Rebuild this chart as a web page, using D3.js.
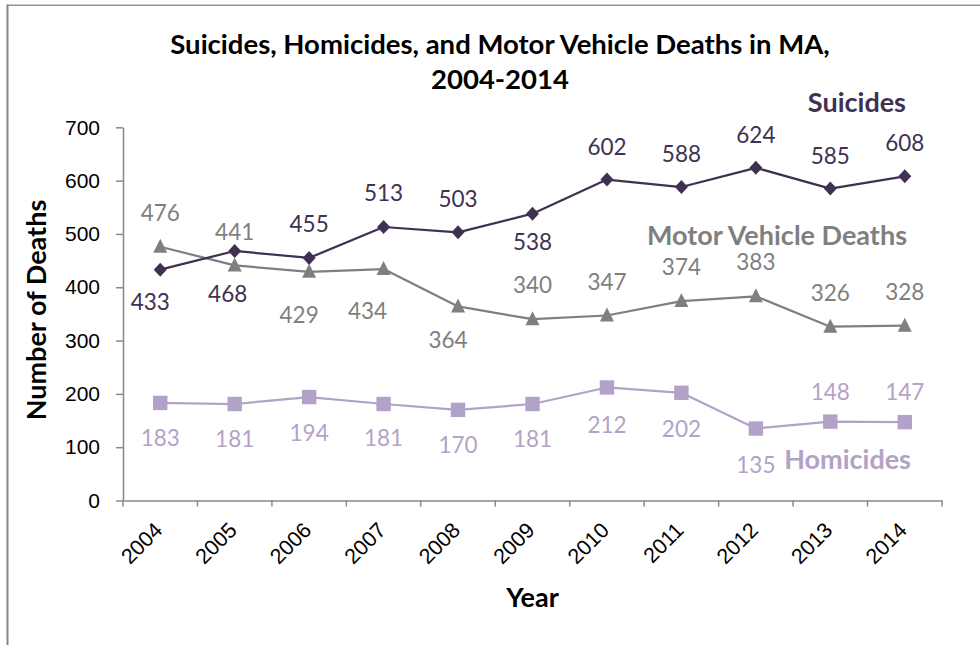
<!DOCTYPE html>
<html>
<head>
<meta charset="utf-8">
<script src="https://cdn.jsdelivr.net/npm/d3@7"></script>
<style>
  html, body { margin: 0; padding: 0; background: #fff; }
  svg { display: block; }
</style>
</head>
<body>
<svg id="chart" width="980" height="645"></svg>
<script>
// ---- data ----
const years = ["2004","2005","2006","2007","2008","2009","2010","2011","2012","2013","2014"];
const suicides = [433, 468, 455, 513, 503, 538, 602, 588, 624, 585, 608];
const motorVehicle = [476, 441, 429, 434, 364, 340, 347, 374, 383, 326, 328];
const homicides = [183, 181, 194, 181, 170, 181, 212, 202, 135, 148, 147];
const yTicks = [0, 100, 200, 300, 400, 500, 600, 700];
const seriesNames = ["Suicides", "Motor Vehicle Deaths", "Homicides"];

// label placement (pixel nudges relative to each point: [dx, dy to label centre])
const suicideLabelNudge = [[-10,32],[-7,43],[0,-34],[0,-34],[0,-33],[0,28],[0,-33],[0,-33],[0,-33],[0,-33],[0,-33]];
const motorLabelNudge = [[0,-34],[0,-33],[-10,43],[-16,42],[-10,33],[0,-34],[0,-34],[0,-34],[0,-34],[0,-34],[0,-34]];
const homicideLabelNudge = [[0,35],[0,35],[0,36],[0,34],[0,35],[0,35],[0,37],[0,36],[0,36],[0,-30],[0,-30]];

// ---- layout / style ----
const svg = d3.select("#chart");
const plot = { left: 123, right: 942, top: 127.3, bottom: 500.5 };
const colors = { suicides: "#403152", motor: "#7f7f7f", homicides: "#b3a2c7" };
const axisColor = "#888888";
const calibriLike = "Lato, 'Open Sans', sans-serif";
const arialLike = "'Liberation Sans', Arial, sans-serif";

const x = d3.scaleBand().domain(years).range([plot.left, plot.right]).padding(0);
const cx = d => x(d) + x.bandwidth() / 2;
const y = d3.scaleLinear().domain([0, 700]).range([plot.bottom, plot.top]);

// chart-area frame (top and left edges visible)
svg.append("line").attr("x1", 7).attr("x2", 980).attr("y1", 5.3).attr("y2", 5.3)
  .attr("stroke", "#959595").attr("stroke-width", 1.5);
svg.append("line").attr("x1", 7.5).attr("x2", 7.5).attr("y1", 4.5).attr("y2", 645)
  .attr("stroke", "#868686").attr("stroke-width", 2);

// title
const title = svg.append("text").attr("text-anchor", "middle")
  .attr("font-family", calibriLike).attr("font-weight", 700).attr("font-size", 27.5).attr("fill", "#000");
title.append("tspan").attr("x", 500).attr("y", 54).text("Suicides, Homicides, and Motor Vehicle Deaths in MA,");
title.append("tspan").attr("x", 500).attr("y", 89).text("2004-2014");

// y axis
const yAxis = svg.append("g").attr("transform", `translate(${plot.left},0)`)
  .call(d3.axisLeft(y).tickValues(yTicks).tickSize(7).tickSizeOuter(0).tickPadding(16).tickFormat(d3.format("d")));
yAxis.select(".domain").attr("stroke", axisColor).attr("stroke-width", 1.5);
yAxis.selectAll(".tick line").attr("stroke", axisColor).attr("stroke-width", 1.5);
yAxis.selectAll(".tick text").attr("font-family", arialLike).attr("font-size", 21).attr("fill", "#000");

// x axis
const xAxis = svg.append("g").attr("transform", `translate(0,${plot.bottom})`)
  .call(d3.axisBottom(x).tickSize(0).tickSizeOuter(0));
xAxis.select(".domain").attr("stroke", axisColor).attr("stroke-width", 1.5);
xAxis.selectAll(".tick text")
  .attr("font-family", arialLike).attr("font-size", 21.5).attr("fill", "#000")
  .attr("text-anchor", "end").attr("dy", 0).attr("y", 0).attr("x", 0)
  .attr("transform", "translate(3.5,31) rotate(-45)");
// category boundary ticks
const boundaries = years.map(d => x(d)).concat([x.range()[1]]);
xAxis.selectAll(".btick").data(boundaries).enter().append("line")
  .attr("x1", d => d).attr("x2", d => d).attr("y1", 0).attr("y2", 6)
  .attr("stroke", axisColor).attr("stroke-width", 1.5);

// axis titles
svg.append("text").attr("transform", "translate(46,310) rotate(-90)").attr("text-anchor", "middle")
  .attr("font-family", calibriLike).attr("font-weight", 700).attr("font-size", 27).attr("fill", "#000")
  .text("Number of Deaths");
svg.append("text").attr("x", 532.5).attr("y", 607).attr("text-anchor", "middle")
  .attr("font-family", calibriLike).attr("font-weight", 700).attr("font-size", 27).attr("fill", "#000")
  .text("Year");

// markers
const diamond = "M0,-7L6.5,0L0,7L-6.5,0Z";
const triangle = "M0,-8L7,6L-7,6Z";
const square = "M-7.2,-7.2H7.2V7.2H-7.2Z";

const series = [
  { name: seriesNames[1], values: motorVehicle, color: colors.motor, marker: triangle, nudge: motorLabelNudge },
  { name: seriesNames[2], values: homicides, color: colors.homicides, marker: square, nudge: homicideLabelNudge },
  { name: seriesNames[0], values: suicides, color: colors.suicides, marker: diamond, nudge: suicideLabelNudge }
];

const line = d3.line().x((d, i) => cx(years[i])).y(d => y(d));
const labelSize = 22.5;

series.forEach(s => {
  const g = svg.append("g");
  g.append("path").datum(s.values).attr("d", line)
    .attr("fill", "none").attr("stroke", s.color).attr("stroke-width", 2.25).attr("stroke-linejoin", "round");
  g.selectAll(".m").data(s.values).enter().append("path")
    .attr("d", s.marker).attr("fill", s.color)
    .attr("transform", (d, i) => `translate(${cx(years[i])},${y(d)})`);
  g.selectAll(".lbl").data(s.values).enter().append("text")
    .attr("x", (d, i) => cx(years[i]) + s.nudge[i][0])
    .attr("y", (d, i) => y(d) + s.nudge[i][1] + labelSize * 0.36)
    .attr("text-anchor", "middle")
    .attr("font-family", calibriLike).attr("font-size", labelSize).attr("fill", s.color)
    .text(d => d);
});

// inline series names
const nameStyle = (sel, color) => sel.attr("text-anchor", "end").attr("font-family", calibriLike)
  .attr("font-weight", 700).attr("font-size", 27).attr("fill", color);
svg.append("text").attr("x", 906).attr("y", 112).call(nameStyle, colors.suicides).text(seriesNames[0]);
svg.append("text").attr("x", 907).attr("y", 245).call(nameStyle, colors.motor).text(seriesNames[1]);
svg.append("text").attr("x", 911).attr("y", 469).call(nameStyle, colors.homicides).text(seriesNames[2]);
</script>
</body>
</html>
